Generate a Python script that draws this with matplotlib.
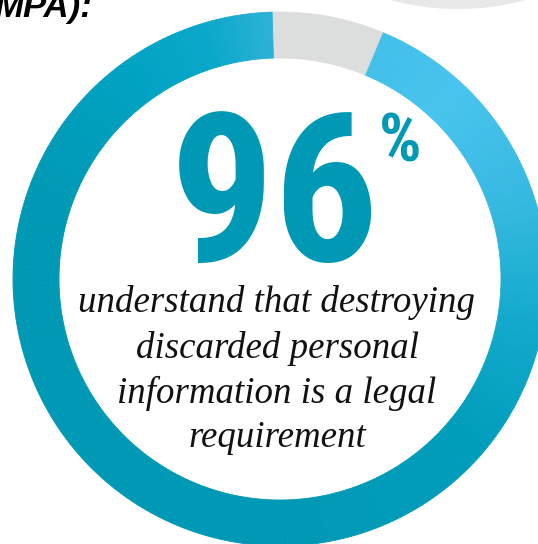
import numpy as np
import matplotlib
matplotlib.use("Agg")
import matplotlib.pyplot as plt
from matplotlib.colors import LinearSegmentedColormap
from matplotlib.patches import Circle

# values (share of circle)
shares = [6.8, 93.2]          # grey gap, teal arc
headline = "96"
caption = ["understand that destroying",
           "discarded personal",
           "information is a legal",
           "requirement"]

W, H = 538, 544
teal = "#0099B5"
grey = "#DCDEDD"

# gradient along the teal arc, from the grey end going clockwise
stops = [(0.00, "#43C0EA"), (0.06, "#48C4EE"), (0.15, "#34B8E0"),
         (0.23, "#12A9CC"), (0.32, "#009DBB"), (0.45, "#0099B5"),
         (0.80, "#0099B5"), (0.90, "#00A2C2"), (0.96, "#0AA8CA"),
         (1.00, "#2AB1D6")]
ring_cmap = LinearSegmentedColormap.from_list("ring", stops)

fig = plt.figure(figsize=(W / 100, H / 100), dpi=100)
ax = fig.add_axes([0, 0, 1, 1])

cx, cy = 280, H - 279
r_out, width = 267, 46

# light grey shape peeking in at the top right
ax.add_patch(Circle((458, H + 252), 261, color="#E8E8E8", lw=0))

# ring: grey slice then the teal slice split into small steps for the gradient
n = 360
teal_parts = [shares[1] / n] * n
vals = [shares[0]] + teal_parts
cols = [grey] + [ring_cmap(i / (n - 1)) for i in range(n)]
wedges, _ = ax.pie(vals, colors=cols, startangle=91.7, counterclock=False,
                   center=(cx, cy), radius=r_out, frame=True,
                   wedgeprops=dict(width=width, linewidth=0.6))
for w, c in zip(wedges, cols):
    w.set_edgecolor(c)
ax.set_xlim(0, W)
ax.set_ylim(0, H)
ax.axis("off")

# headline number
big_font = ["Roboto Condensed", "Liberation Sans"]
ax.text(275, H - 261, headline, color=teal, fontsize=149,
        family=big_font, weight=900, ha="center", va="baseline")
ax.text(400, H - 161, "%", color=teal, fontsize=48,
        family=big_font, weight=900, ha="center", va="baseline")

# caption in italic serif
base = [312, 358, 403, 447]
for line, y in zip(caption, base):
    ax.text(277, H - y, line, fontsize=26.6, style="italic",
            family="Liberation Serif", color="#111111",
            ha="center", va="baseline")

# clipped heading fragment at the top left
ax.text(92, H - 17, "MPA):", fontsize=25, weight="bold", style="italic",
        family="Liberation Sans", color="black", ha="right", va="baseline")

fig.savefig("out.png", dpi=100)
